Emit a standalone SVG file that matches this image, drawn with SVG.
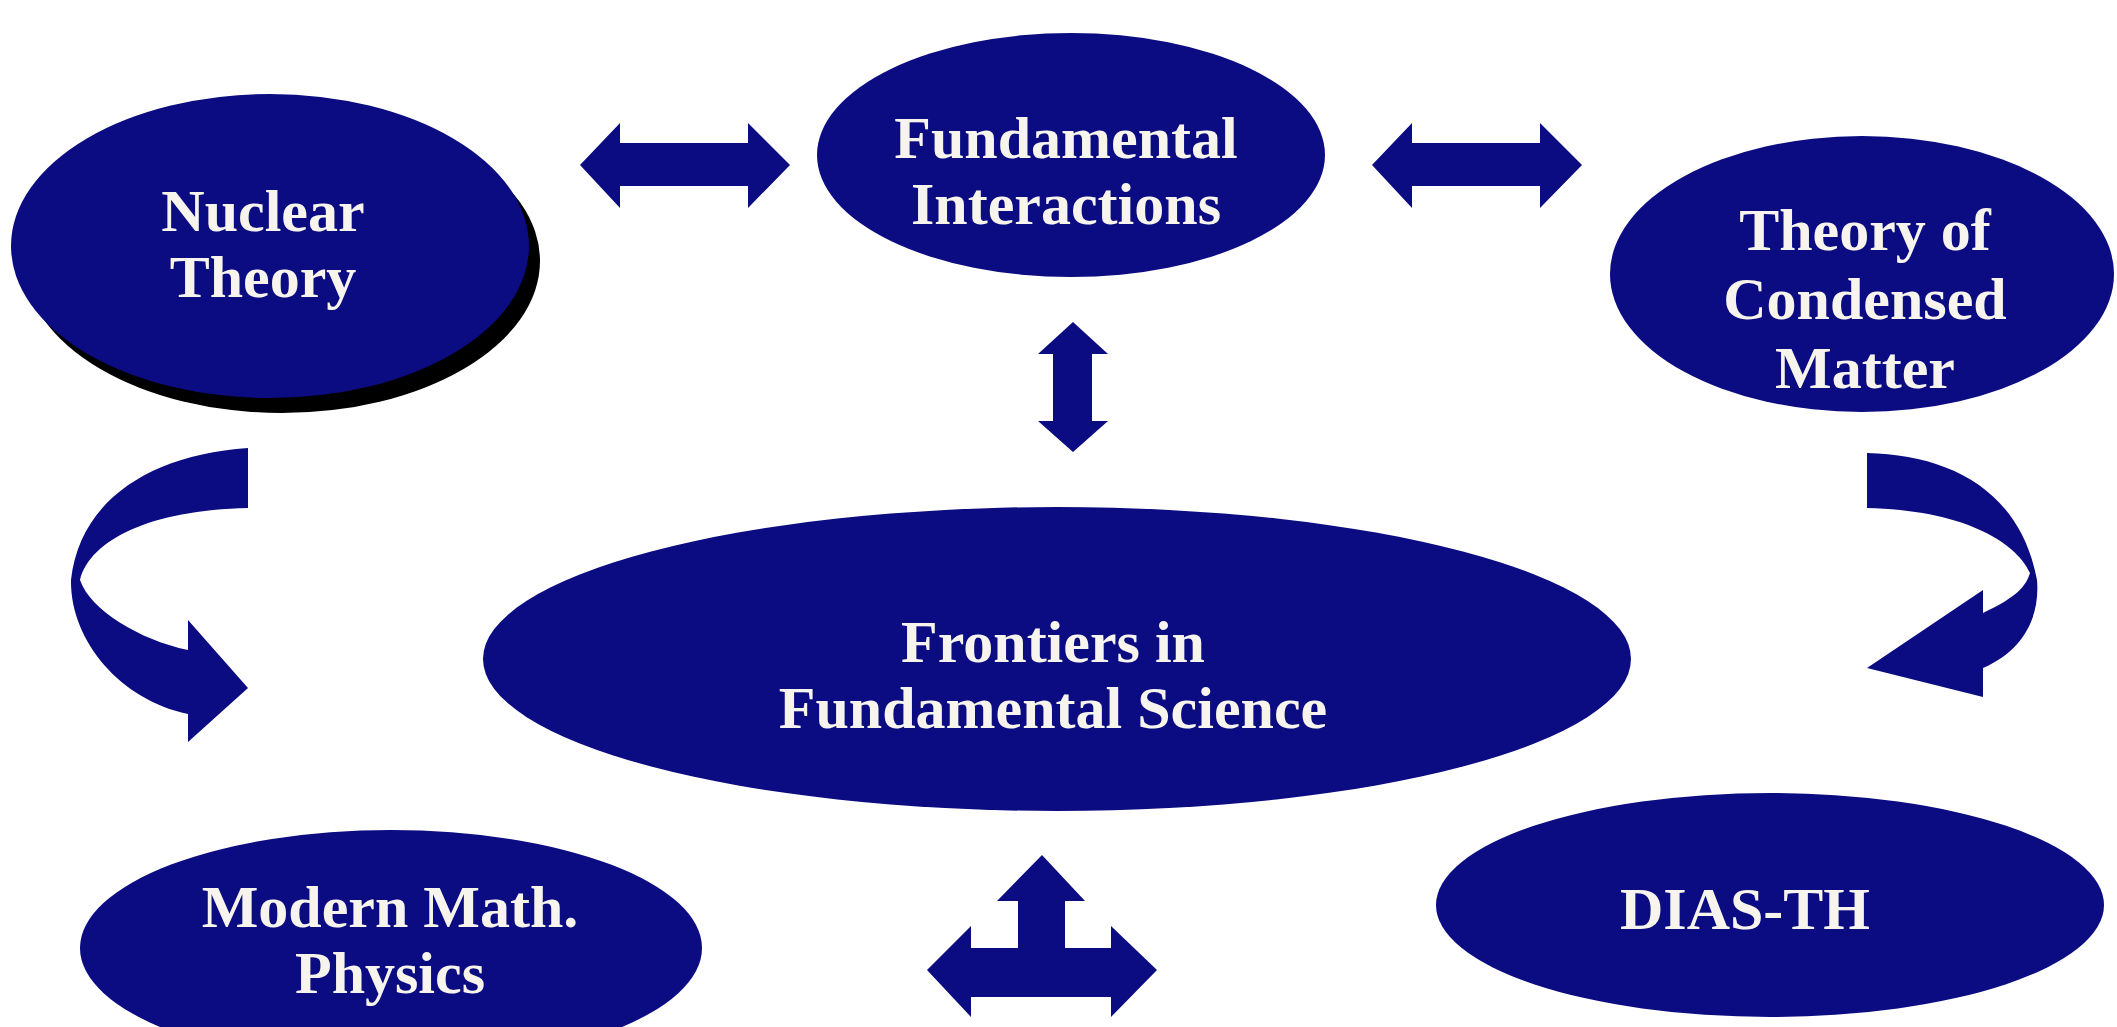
<svg xmlns="http://www.w3.org/2000/svg" width="2117" height="1027" viewBox="0 0 2117 1027">
<style>
.node{fill:#0b0b82}
.shadow{fill:#000000}
.lbl{font-family:"Liberation Serif","Times New Roman",serif;font-weight:bold;font-size:60px;fill:#f6f4ec;text-anchor:middle}
.arr{fill:#0b0b82}
</style>
<rect x="0" y="0" width="2117" height="1027" fill="#ffffff"/>
<g id="connectors">
  <path class="arr" d="M580,165 L620,123 L620,143 L748,143 L748,123 L790,165 L748,208 L748,186 L620,186 L620,208 Z"/>
  <path class="arr" d="M1372,165 L1412,123 L1412,143 L1540,143 L1540,123 L1582,165 L1540,208 L1540,186 L1412,186 L1412,208 Z"/>
  <path class="arr" d="M1073,322 L1108,354 L1092,354 L1092,421 L1108,421 L1073,452 L1038,421 L1053,421 L1053,354 L1038,354 Z"/>
  <path class="arr" d="M1042,855 L1085,901 L1065,901 L1065,948 L1111,948 L1111,926 L1157,970 L1111,1017 L1111,997 L971,997 L971,1017 L927,970 L971,926 L971,948 L1018,948 L1018,901 L997,901 Z"/>
  <path class="arr" d="M248,448 C150,455 80,500 71,580 C70,640 120,700 188,714 L188,742 L248,688 L188,620 L188,650 C140,640 90,610 80,580 C90,540 150,510 248,508 Z"/>
  <path class="arr" d="M1867,453 C1950,455 2020,490 2037,580 C2040,615 2025,650 1983,668 L1983,697 L1867,668 L1983,590 L1983,613 C2010,600 2025,590 2030,573 C2015,540 1960,510 1867,508 Z"/>
</g>
<g id="nuclear-theory">
  <ellipse class="shadow" cx="282" cy="261" rx="258" ry="152"/>
  <ellipse class="node" cx="270" cy="246" rx="259" ry="152"/>
  <text class="lbl" x="263" y="231">Nuclear</text>
  <text class="lbl" x="263" y="297">Theory</text>
</g>
<g id="fundamental-interactions">
  <ellipse class="node" cx="1071" cy="155" rx="254" ry="122"/>
  <text class="lbl" x="1066" y="158">Fundamental</text>
  <text class="lbl" x="1066" y="224">Interactions</text>
</g>
<g id="theory-condensed-matter">
  <ellipse class="node" cx="1862" cy="274" rx="252" ry="138"/>
  <text class="lbl" x="1865" y="250">Theory of</text>
  <text class="lbl" x="1865" y="319">Condensed</text>
  <text class="lbl" x="1865" y="388">Matter</text>
</g>
<g id="frontiers">
  <ellipse class="node" cx="1057" cy="659" rx="574" ry="152"/>
  <text class="lbl" x="1053" y="662">Frontiers in</text>
  <text class="lbl" x="1053" y="728">Fundamental Science</text>
</g>
<g id="modern-math-physics">
  <ellipse class="node" cx="391" cy="948" rx="311" ry="118"/>
  <text class="lbl" x="390" y="927">Modern Math.</text>
  <text class="lbl" x="390" y="993">Physics</text>
</g>
<g id="dias-th">
  <ellipse class="node" cx="1770" cy="905" rx="334" ry="112"/>
  <text class="lbl" x="1745" y="929">DIAS-TH</text>
</g>
</svg>
